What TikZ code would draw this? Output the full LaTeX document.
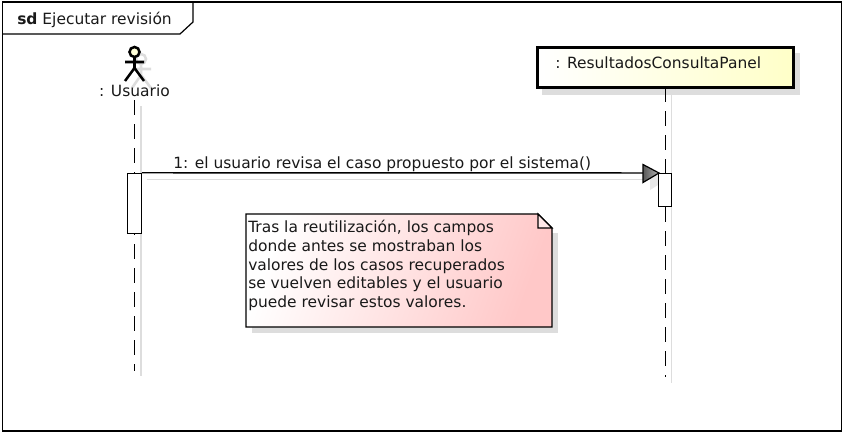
\documentclass[tikz,border=0pt]{standalone}
\usepackage{fontspec}
\setmainfont{DejaVu Sans}
\usetikzlibrary{positioning}
\definecolor{shadowgray}{HTML}{DDDDDD}
\definecolor{notepink}{HTML}{FFC8C8}
\definecolor{boxyellow}{HTML}{FFFFC8}
\tikzset{
  umltext/.style={font=\fontsize{11.6}{14.2}\selectfont, inner sep=0pt, text=black!90},
  lifeline/.style={draw=black, line width=1.1pt, dash pattern=on 11.25pt off 6.75pt},
  lifeshadow/.style={draw=shadowgray, line width=1.1pt},
  activation/.style={draw=black, fill=white, line width=0.75pt, inner sep=0pt},
  stickman/.style={draw=black, line width=1.9pt},
  stickshadow/.style={draw=shadowgray, line width=1.9pt}
}
\begin{document}
\begin{tikzpicture}[x=0.75pt, y=-0.75pt]
  \useasboundingbox (0,0) rectangle (845,435);
  \fill[white] (0,0) rectangle (845,435);
  % frame
  \draw[line width=1.1pt] (2.5,2) rectangle (841.5,431);
  \draw[line width=0.9pt] (2.5,34) -- (180,34) -- (193,22) -- (193,2);
  \node[umltext, anchor=base west] (frameLabel) at (17,25) {\textbf{sd} Ejecutar revisión};
  % shadows
  \fill[shadowgray] (542,53) rectangle (800,95);
  \draw[lifeshadow] (141,106) -- (141,376);
  \draw[lifeshadow] (671.5,95) -- (671.5,383);
  \draw[lifeshadow] (147,179.5) -- (652,179.5);
  \fill[shadowgray!70] (650,171) -- (666,180) -- (650,190) -- cycle;
  \fill[shadowgray] (252,233) -- (558,233) -- (558,333) -- (252,333) -- cycle;
  % actor
  \draw[stickshadow] (141,59) circle (5);
  \draw[stickshadow] (141,64) -- (141,75) (132,69) -- (151,69) (132,88) -- (141,75) -- (151,88);
  \filldraw[stickman, fill=boxyellow!70] (134.5,52) circle (5);
  \draw[stickman] (134.5,57) -- (134.5,68) (125,62) -- (144,62) (125,81) -- (134.5,68) -- (144,81);
  \node[umltext] (usuarioLabel) at (134.5,91) {: Usuario};
  % lifelines
  \coordinate (usuarioTop) at (134.5,100);
  \coordinate (usuarioEnd) at (134.5,371);
  \coordinate (panelEnd) at (665.5,377);
  \draw[lifeline] (usuarioTop) -- (usuarioEnd);
  \node[draw=black, line width=2.25pt, left color=white, right color=boxyellow, minimum width=192pt, minimum height=30pt, inner sep=0pt] (panelBox) at (665.5,67.5) {};
  \node[umltext, anchor=base west] (panelLabel) at (555,68.5) {: ResultadosConsultaPanel};
  \draw[lifeline, dash phase=1.5pt] (panelBox.south) -- (panelEnd);
  % activations
  \node[activation, minimum width=10.5pt, minimum height=45pt] (usuarioAct) at (134.3,203.25) {};
  \node[activation, minimum width=9.75pt, minimum height=24.75pt] (panelAct) at (665,190) {};
  % message
  \coordinate (msgTip) at (659,173);
  \draw[line width=1.1pt] (usuarioAct.north east) -- (msgTip);
  \shade[left color=black!65, right color=black!30] (643,164.5) -- (msgTip) -- (643,182.5) -- cycle;
  \draw[line width=0.9pt] (643,164.5) -- (msgTip) -- (643,182.5) -- cycle;
  \node[umltext, anchor=base west] (msgLabel) at (173,168) {1: el usuario revisa el caso propuesto por el sistema()};
  % note
  \draw[line width=0.9pt, left color=white, right color=notepink, shading angle=70] (246,214) -- (538,214) -- (552,228) -- (552,327) -- (246,327) -- cycle;
  \draw[line width=0.9pt, fill=white!60!notepink] (538,214) -- (538,228) -- (552,228) -- cycle;
  \node[umltext, anchor=north west, align=left] (noteText) at (248,219.5) {Tras la reutilización, los campos\\donde antes se mostraban los\\valores de los casos recuperados\\se vuelven editables y el usuario\\puede revisar estos valores.};
\end{tikzpicture}
\end{document}
